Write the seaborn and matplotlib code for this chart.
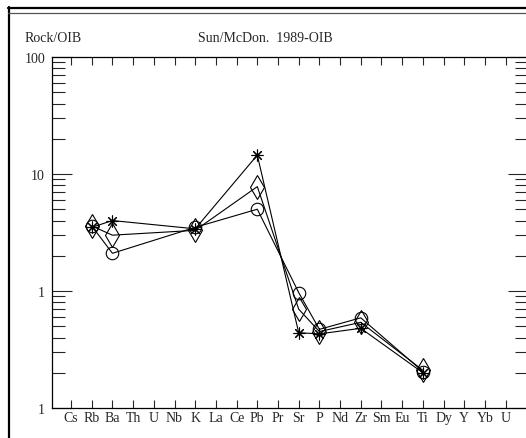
import numpy as np
import pandas as pd
import matplotlib
matplotlib.use("Agg")
import matplotlib.pyplot as plt
from matplotlib.lines import Line2D
from matplotlib.ticker import FixedLocator, LogLocator, NullFormatter
import seaborn as sns

# spider diagram data (normalised to OIB)
elements = ["Cs", "Rb", "Ba", "Th", "U", "Nb", "K", "La", "Ce", "Pb", "Pr",
            "Sr", "P", "Nd", "Zr", "Sm", "Eu", "Ti", "Dy", "Y", "Yb", "U"]
plotted = ["Rb", "Ba", "K", "Pb", "Sr", "P", "Zr", "Ti"]
circle_vals = [3.6, 2.1, 3.5, 5.0, 0.97, 0.47, 0.59, 0.205]
diamond_vals = [3.6, 3.0, 3.3, 7.8, 0.70, 0.45, 0.54, 0.21]
star_vals = [3.5, 4.0, 3.4, 14.5, 0.44, 0.43, 0.48, 0.20]
y_ticks = [0.1, 1, 10, 100]
y_ticklabels = ["1", "1", "10", "100"]

sns.set_style("ticks")
plt.rcParams["font.family"] = ["Liberation Serif", "DejaVu Serif"]
plt.rcParams["font.size"] = 10

positions = [elements.index(el) + 1 for el in plotted]
series = [("circle", circle_vals, "o", 9),
          ("diamond", diamond_vals, "d", 12),
          ("star", star_vals, (8, 2, 0), 8.5)]

fig = plt.figure(figsize=(5.26, 4.39), dpi=100)
ax = fig.add_axes([52 / 526, 30 / 439, 476 / 526, 351 / 439])

for name, vals, marker, ms in series:
    df = pd.DataFrame({"pos": positions, "value": vals})
    sns.lineplot(data=df, x="pos", y="value", marker=marker, color="black",
                 ax=ax, linewidth=0.8, markersize=ms, markerfacecolor="none",
                 markeredgecolor="black", markeredgewidth=0.8)

ax.set_yscale("log")
ax.set_ylim(0.1, 100)
ax.set_xlim(0.08, 23.08)
ax.yaxis.set_major_locator(FixedLocator(y_ticks))
ax.set_yticklabels(y_ticklabels)
ax.yaxis.set_minor_locator(LogLocator(base=10, subs=np.arange(2, 10)))
ax.yaxis.set_minor_formatter(NullFormatter())
ax.set_xticks(range(1, len(elements) + 1))
ax.set_xticklabels(elements)
ax.set_xlabel("")
ax.set_ylabel("")

ax.tick_params(axis="y", which="major", direction="in", length=14.5, width=0.8,
               left=True, right=True, pad=5, labelsize=10)
ax.tick_params(axis="y", which="minor", direction="in", length=9.5, width=0.8,
               left=True, right=True)
ax.tick_params(axis="x", which="major", direction="in", length=6, width=0.8,
               top=True, bottom=True, pad=2, labelsize=10)
for sp in ax.spines.values():
    sp.set_linewidth(0.9)
    sp.set_color("black")

fig.text(25 / 526, 1 - 38 / 439, "Rock/OIB", ha="left", va="center", fontsize=10)
fig.text(265 / 526, 1 - 38 / 439, "Sun/McDon.  1989-OIB", ha="center", va="center", fontsize=10)

# outer frame lines
fig.add_artist(Line2D([8.5 / 526, 8.5 / 526], [0, 1 - 8 / 439], color="black", lw=1.6))
fig.add_artist(Line2D([8 / 526, 1], [1 - 9 / 439, 1 - 9 / 439], color="black", lw=1.6))
fig.add_artist(Line2D([8 / 526, 1], [1 - 14 / 439, 1 - 14 / 439], color="#555555", lw=0.9))

fig.savefig("out.png", dpi=100)
